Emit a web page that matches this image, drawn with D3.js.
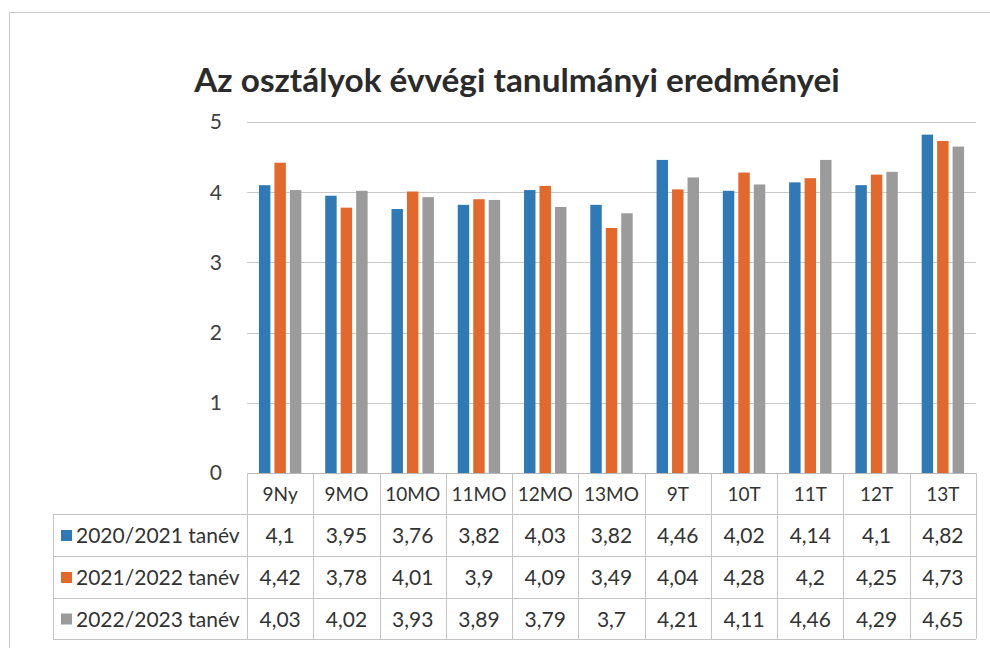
<!DOCTYPE html>
<html>
<head>
<meta charset="utf-8">
<script src="https://cdn.jsdelivr.net/npm/d3@7/dist/d3.min.js"></script>
<style>
  html, body { margin: 0; padding: 0; background: #fff; }
  svg { display: block; }
</style>
</head>
<body>
<svg id="chart" width="990" height="648"></svg>
<script>
const title = "Az osztályok évvégi tanulmányi eredményei";
const categories = ["9Ny", "9MO", "10MO", "11MO", "12MO", "13MO", "9T", "10T", "11T", "12T", "13T"];
const seriesNames = ["2020/2021 tanév", "2021/2022 tanév", "2022/2023 tanév"];
const values2021 = [4.1, 3.95, 3.76, 3.82, 4.03, 3.82, 4.46, 4.02, 4.14, 4.1, 4.82];
const values2122 = [4.42, 3.78, 4.01, 3.9, 4.09, 3.49, 4.04, 4.28, 4.2, 4.25, 4.73];
const values2223 = [4.03, 4.02, 3.93, 3.89, 3.79, 3.7, 4.21, 4.11, 4.46, 4.29, 4.65];
const colors = ["#2f79b7", "#e2692b", "#9b9b9b"];
const yTicks = [0, 1, 2, 3, 4, 5];

const seriesValues = [values2021, values2122, values2223];
const fmt = v => String(v).replace(".", ",");

const svg = d3.select("#chart");
const font = "Lato, 'Open Sans', sans-serif";

// outer frame
svg.append("path")
  .attr("d", "M9.5,648 V12.5 H990")
  .attr("fill", "none").attr("stroke", "#c8c8c8").attr("stroke-width", 1);

const plotLeft = 247, plotRight = 976, plotTop = 122, plotBottom = 473;

const x = d3.scaleBand().domain(categories).range([plotLeft, plotRight]).paddingInner(0).paddingOuter(0);
const colW = x.bandwidth();
const x1 = d3.scaleBand().domain(seriesNames).range([colW * 0.18, colW * 0.82]).paddingInner(0.26);
const y = d3.scaleLinear().domain([0, 5]).range([plotBottom, plotTop]);

// title
const t = svg.append("text")
  .attr("x", 517).attr("y", 92)
  .attr("text-anchor", "middle")
  .attr("font-family", font).attr("font-weight", "bold")
  .attr("font-size", 28).attr("fill", "#2b2b2b")
  .text(title);
const tw = t.node().getComputedTextLength();
t.attr("font-size", 28 * 646 / tw);

// gridlines
svg.append("g").selectAll("line").data(yTicks.filter(d => d > 0)).join("line")
  .attr("x1", plotLeft).attr("x2", plotRight)
  .attr("y1", d => Math.round(y(d)) + 0.5).attr("y2", d => Math.round(y(d)) + 0.5)
  .attr("stroke", "#c9c9c9").attr("stroke-width", 1);

// y axis labels
svg.append("g").selectAll("text").data(yTicks).join("text")
  .attr("x", 222).attr("y", d => y(d))
  .attr("dy", "0.35em").attr("text-anchor", "end")
  .attr("font-family", font).attr("font-size", 21).attr("fill", "#404040")
  .text(d => d);

// bars
const groups = svg.append("g").selectAll("g").data(seriesValues).join("g")
  .attr("fill", (d, i) => colors[i]);
groups.each(function (vals, si) {
  d3.select(this).selectAll("rect").data(vals).join("rect")
    .attr("x", (v, ci) => x(categories[ci]) + x1(seriesNames[si]))
    .attr("width", x1.bandwidth())
    .attr("y", v => y(v))
    .attr("height", v => y(0) - y(v));
});

// data table
const tableLeft = 53;
const rowTops = [473, 514, 556, 598, 639];
const lineColor = "#c4c4c4";
const tbl = svg.append("g");

tbl.append("line").attr("x1", plotLeft).attr("x2", plotRight)
  .attr("y1", rowTops[0] + 0.5).attr("y2", rowTops[0] + 0.5)
  .attr("stroke", "#b8b8b8");
for (let r = 1; r < rowTops.length; r++) {
  tbl.append("line").attr("x1", tableLeft).attr("x2", plotRight)
    .attr("y1", rowTops[r] + 0.5).attr("y2", rowTops[r] + 0.5)
    .attr("stroke", lineColor);
}
const colEdges = categories.map(c => x(c)).concat([plotRight]);
colEdges.forEach(cx => {
  tbl.append("line").attr("x1", Math.round(cx) + 0.5).attr("x2", Math.round(cx) + 0.5)
    .attr("y1", rowTops[0]).attr("y2", rowTops[4])
    .attr("stroke", lineColor);
});
tbl.append("line").attr("x1", tableLeft + 0.5).attr("x2", tableLeft + 0.5)
  .attr("y1", rowTops[1]).attr("y2", rowTops[4]).attr("stroke", lineColor);

// header labels
tbl.selectAll("text.cat").data(categories).join("text")
  .attr("class", "cat")
  .attr("x", d => x(d) + colW / 2).attr("y", (rowTops[0] + rowTops[1]) / 2 + 1)
  .attr("dy", "0.35em").attr("text-anchor", "middle")
  .attr("font-family", font).attr("font-size", 19).attr("fill", "#333")
  .text(d => d);

// rows
seriesNames.forEach((name, si) => {
  const cy = (rowTops[si + 1] + rowTops[si + 2]) / 2 + 1;
  tbl.append("rect").attr("x", 61).attr("y", cy - 6).attr("width", 11).attr("height", 11)
    .attr("fill", colors[si]);
  tbl.append("text").attr("x", 76).attr("y", cy).attr("dy", "0.35em")
    .attr("font-family", font).attr("font-size", 21).attr("fill", "#333")
    .text(name);
  tbl.selectAll(null).data(seriesValues[si]).join("text")
    .attr("x", (v, ci) => x(categories[ci]) + colW / 2).attr("y", cy)
    .attr("dy", "0.35em").attr("text-anchor", "middle")
    .attr("font-family", font).attr("font-size", 21).attr("fill", "#333")
    .text(v => fmt(v));
});
</script>
</body>
</html>
